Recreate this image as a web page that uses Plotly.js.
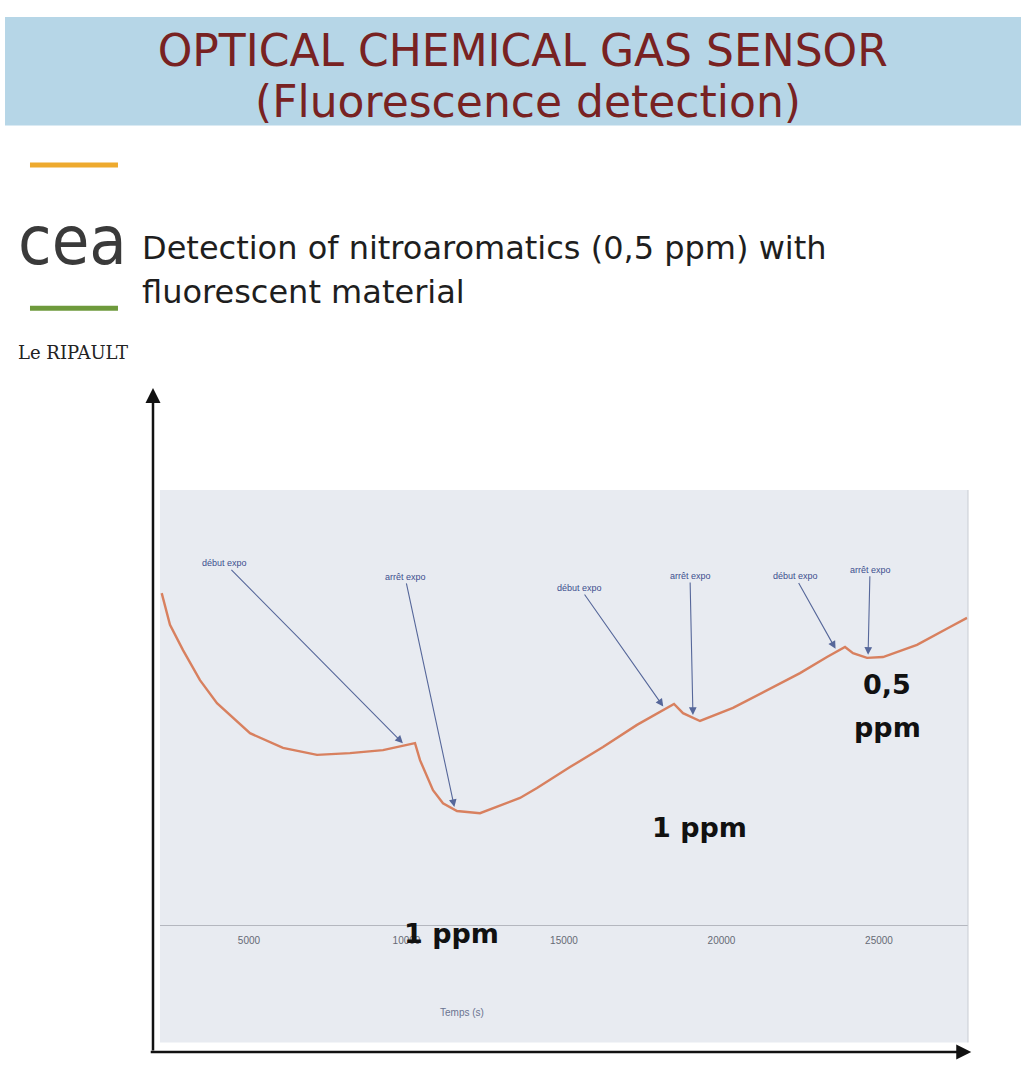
<!DOCTYPE html>
<html>
<head>
<meta charset="utf-8">
<script src="https://cdn.plot.ly/plotly-3.0.1.min.js"></script>
<style>html,body{margin:0;padding:0;background:#fff;}#chart{width:1021px;height:1074px;}</style>
</head>
<body>
<div id="chart"></div>
<script>
// ---- Data (time in s, fluorescence in arbitrary units) ----
var timeSec = [2229, 2492, 2905, 3444, 3984, 5032, 6079, 7159, 8206, 9254, 10270, 10429, 10841, 11159,
  11603, 12333, 13603, 14143, 15190, 16238, 17317, 18143, 18492, 18778, 19095, 19317, 20365, 21444,
  22492, 23349, 23921, 24175, 24619, 25127, 26206, 27254, 27794];
var fluorescence = [76.3, 69.0, 63.2, 56.3, 51.0, 44.1, 40.7, 39.1, 39.5, 40.2, 41.8, 37.9, 31.0, 28.0,
  26.2, 25.7, 29.2, 31.5, 36.3, 40.9, 46.0, 49.4, 50.8, 48.7, 47.6, 46.9, 49.9, 54.0,
  57.9, 61.6, 63.9, 62.5, 61.4, 61.6, 64.4, 68.5, 70.6];
var eventTimes = [9952, 11540, 18206, 19095, 23667, 24651];
var eventLabels = ['début expo', 'arrêt expo', 'début expo', 'arrêt expo', 'début expo', 'arrêt expo'];
var tickValues = [5000, 10000, 15000, 20000, 25000];
var tickLabels = ['5000', '10000', '15000', '20000', '25000'];
var concentrationLabels = ['1 ppm', '1 ppm', '0,5', 'ppm'];

function interp(t) {
  for (var i = 0; i < timeSec.length - 1; i++) {
    if (t >= timeSec[i] && t <= timeSec[i + 1]) {
      var f = (t - timeSec[i]) / (timeSec[i + 1] - timeSec[i]);
      return fluorescence[i] + f * (fluorescence[i + 1] - fluorescence[i]);
    }
  }
  return fluorescence[fluorescence.length - 1];
}

var trace = {
  x: timeSec, y: fluorescence, type: 'scatter', mode: 'lines',
  line: {color: '#d8805f', width: 2.4}, hoverinfo: 'x+y', showlegend: false
};

var labelOffsets = [[-180, -182], [-50, -233], [-85, -121], [-3, -142], [-42, -75], [2, -88]];
var annotations = [];
eventTimes.forEach(function (t, i) {
  annotations.push({
    x: t, y: interp(t), xref: 'x', yref: 'y', text: eventLabels[i],
    showarrow: true, arrowhead: 2, arrowsize: 1.4, arrowwidth: 1.1, arrowcolor: '#56679a',
    ax: labelOffsets[i][0], ay: labelOffsets[i][1], standoff: 3,
    font: {family: 'Liberation Sans, Arial', size: 9, color: '#3d4f8f'}
  });
});

var bigFont = {family: 'DejaVu Sans', size: 27, color: '#111'};
var labelPos = [[0.668, 0.223], [0.361, -0.019], [0.9, 0.552], [0.9, 0.453]];
concentrationLabels.forEach(function (s, i) {
  annotations.push({xref: 'paper', yref: 'paper', x: labelPos[i][0], y: labelPos[i][1],
    xanchor: 'center', yanchor: 'middle',
    text: '<b>' + s + '</b>', showarrow: false, font: bigFont});
});

// axis caption and header texts
annotations.push({xref: 'paper', yref: 'paper', x: 0.374, y: -0.2, xanchor: 'center', yanchor: 'middle',
  text: 'Temps (s)', showarrow: false,
  font: {family: 'Liberation Sans, Arial', size: 10, color: '#6a7390'}});
annotations.push({xref: 'paper', yref: 'paper', x: 0.4554, y: 1.894, xanchor: 'center', yanchor: 'middle',
  text: '(Fluorescence detection)', showarrow: false,
  font: {family: 'DejaVu Sans', size: 44, color: '#782222'}});
annotations.push({xref: 'paper', yref: 'paper', x: -0.0248, y: 1.5563, xanchor: 'left', yanchor: 'middle',
  text: 'Detection of nitroaromatics (0,5 ppm) with', showarrow: false,
  font: {family: 'DejaVu Sans', size: 32, color: '#1e1e1e'}});
annotations.push({xref: 'paper', yref: 'paper', x: -0.0248, y: 1.4552, xanchor: 'left', yanchor: 'middle',
  text: 'fluorescent material', showarrow: false,
  font: {family: 'DejaVu Sans', size: 32, color: '#1e1e1e'}});
annotations.push({xref: 'paper', yref: 'paper', x: -0.1077, y: 1.5747, xanchor: 'center', yanchor: 'middle',
  text: 'cea', showarrow: false,
  font: {family: 'DejaVu Sans Condensed, DejaVu Sans', size: 68, color: '#3a3a3a'}});
annotations.push({xref: 'paper', yref: 'paper', x: -0.178, y: 1.317, xanchor: 'left', yanchor: 'middle',
  text: 'Le RIPAULT', showarrow: false,
  font: {family: 'DejaVu Serif, serif', size: 18, color: '#222'}});

// black frame arrows (axes of the slide)
annotations.push({xref: 'paper', yref: 'paper', x: -0.00866, y: 1.2345, ax: 0, ay: 664, text: '',
  showarrow: true, arrowhead: 2, arrowsize: 1.2, arrowwidth: 2.5, arrowcolor: '#111'});
annotations.push({xref: 'paper', yref: 'paper', x: 1.004, y: -0.292, ax: -822, ay: 0, text: '',
  showarrow: true, arrowhead: 2, arrowsize: 1.2, arrowwidth: 2.5, arrowcolor: '#111'});

var bg = '#e8ebf1';
var shapes = [
  // header band
  {type: 'rect', xref: 'paper', yref: 'paper', x0: -0.1918, x1: 1.0656, y0: 1.838, y1: 2.0874,
    fillcolor: '#b6d6e7', line: {width: 0}, layer: 'below'},
  // orange and green rules next to the logo
  {type: 'line', xref: 'paper', yref: 'paper', x0: -0.1609, x1: -0.052, y0: 1.747, y1: 1.747,
    line: {color: '#eeaa2e', width: 5}},
  {type: 'line', xref: 'paper', yref: 'paper', x0: -0.1609, x1: -0.052, y0: 1.418, y1: 1.418,
    line: {color: '#6e9a3c', width: 5}},
  // grey panel below the inner axis
  {type: 'rect', xref: 'paper', yref: 'paper', x0: 0, x1: 1, y0: -0.27, y1: 0,
    fillcolor: bg, line: {width: 0}, layer: 'below'},
  {type: 'line', xref: 'paper', yref: 'paper', x0: 1, x1: 1, y0: -0.27, y1: 1,
    line: {color: '#c9ccd3', width: 1}}
];

var layout = {
  width: 1021, height: 1074,
  margin: {l: 160, r: 53, t: 490, b: 149},
  paper_bgcolor: '#ffffff', plot_bgcolor: bg,
  title: {text: 'OPTICAL CHEMICAL GAS SENSOR',
    x: 0.512, xref: 'container', y: 0.9525, yref: 'container', yanchor: 'middle',
    font: {family: 'DejaVu Sans', size: 44, color: '#782222'}},
  xaxis: {range: [2175, 27825], tickvals: tickValues, ticktext: tickLabels, ticks: '',
    showgrid: false, zeroline: false, showline: true, linecolor: '#b4b7bf', linewidth: 1,
    ticklabelstandoff: 6,
    tickfont: {family: 'Liberation Sans, Arial', size: 10, color: '#666a75'}},
  yaxis: {range: [0, 100], showticklabels: false, showgrid: false, zeroline: false, ticks: ''},
  annotations: annotations, shapes: shapes, showlegend: false
};

Plotly.newPlot('chart', [trace], layout, {displayModeBar: false, staticPlot: true});
</script>
</body>
</html>
